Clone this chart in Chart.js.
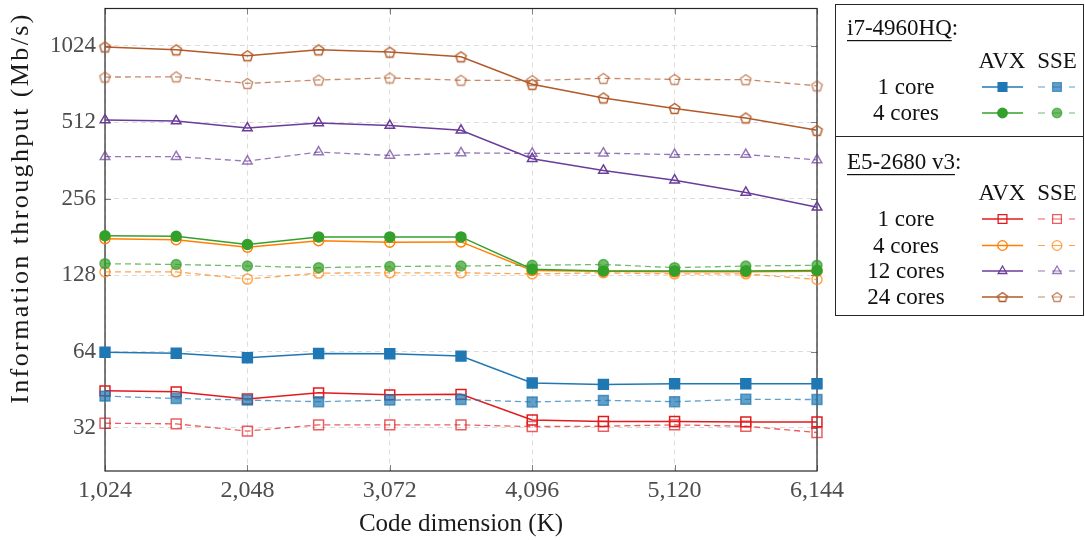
<!DOCTYPE html>
<html>
<head>
<meta charset="utf-8">
<script src="https://cdn.jsdelivr.net/npm/chart.js@4.4.0/dist/chart.umd.min.js"></script>
<style>
  html, body { margin: 0; padding: 0; background: #fff; }
  #wrap { width: 1085px; height: 540px; }
</style>
</head>
<body>
<div id="wrap"><canvas id="chart" width="1085" height="540"></canvas></div>
<script>
// code dimension (K) on x, throughput in Mb/s on a log2 y axis
const codeDims = [1024, 1536, 2048, 2560, 3072, 3584, 4096, 4608, 5120, 5632, 6144];
const xTicks = [1024, 2048, 3072, 4096, 5120, 6144];
const yTicks = [32, 64, 128, 256, 512, 1024];

// i7-4960HQ
const i7Core1Avx  = [63.6, 63.0, 60.5, 62.9, 62.7, 61.4, 48.1, 47.5, 47.8, 47.8, 47.8];
const i7Core1Sse  = [42.7, 41.8, 41.2, 40.6, 41.2, 41.4, 40.5, 41.1, 40.6, 41.5, 41.4];
const i7Cores4Avx = [183, 182, 169, 181, 181, 181, 135, 133, 133, 133, 133.5];
const i7Cores4Sse = [142, 141, 139, 137, 138.5, 139, 140, 141, 137, 139, 140];

// E5-2680 v3
const e5Core1Avx   = [44.8, 44.4, 41.6, 44.0, 43.2, 43.4, 34.4, 33.9, 33.9, 33.8, 33.8];
const e5Core1Sse   = [33.4, 33.2, 31.1, 32.9, 32.9, 32.9, 32.4, 32.5, 32.9, 32.5, 30.7];
const e5Cores4Avx  = [178, 176.6, 164.8, 175, 172.4, 173, 133.5, 132.7, 131.9, 131.9, 132.7];
const e5Cores4Sse  = [131.9, 131.9, 123.5, 130.4, 130.7, 130.7, 129.5, 130.7, 129.5, 129.5, 123];
const e5Cores12Avx = [523, 518, 486, 509, 497, 476, 368, 331, 303, 271, 237];
const e5Cores12Sse = [375, 375, 360, 391, 379, 388, 386, 387, 382, 382, 364];
const e5Cores24Avx = [1015, 988, 937, 988, 968, 928, 723, 639, 581, 533, 476];
const e5Cores24Sse = [772, 774, 729, 752, 766, 750, 748, 763, 756, 754, 713];

const SERIF = '"Liberation Serif", "Times New Roman", serif';

function fade(hex, a) {
  const n = parseInt(hex.slice(1), 16);
  return `rgba(${n >> 16}, ${(n >> 8) & 255}, ${n & 255}, ${a})`;
}

// chart.js has no pentagon marker, so draw one on a small canvas
function pentagon(color, r) {
  const c = document.createElement('canvas');
  const s = Math.ceil(r * 2 + 4);
  c.width = s; c.height = s;
  const g = c.getContext('2d');
  g.strokeStyle = color;
  g.lineWidth = 1.4;
  g.beginPath();
  for (let i = 0; i < 5; i++) {
    const a = -Math.PI / 2 + i * 2 * Math.PI / 5;
    const px = s / 2 + r * Math.cos(a), py = s / 2 + 0.5 + r * Math.sin(a);
    if (i === 0) g.moveTo(px, py); else g.lineTo(px, py);
  }
  g.closePath();
  g.stroke();
  return c;
}

const C = {
  blue: '#1f78b4', green: '#33a02c', red: '#e31a1c',
  orange: '#ff7f00', purple: '#6a3d9a', brown: '#b15928'
};
const SSE_ALPHA = 0.7;

function line(label, data, base, sse, marker, filled) {
  const color = sse ? fade(base, SSE_ALPHA) : base;
  let style = marker, radius = 5;
  if (marker === 'rect') radius = 7;
  if (marker === 'triangle') radius = 5.5;
  if (marker === 'pentagon') style = pentagon(color, 5.5);
  return {
    label: label,
    data: data,
    borderColor: color,
    backgroundColor: color,
    borderWidth: sse ? 1.3 : 1.5,
    borderDash: sse ? [6, 4] : [],
    pointStyle: style,
    pointRadius: radius,
    pointBorderWidth: 1.5,
    pointBorderColor: color,
    pointBackgroundColor: filled ? color : 'rgba(0,0,0,0)',
    tension: 0,
    clip: false
  };
}

const datasets = [
  line('i7 1 core AVX', i7Core1Avx, C.blue, false, 'rect', true),
  line('i7 1 core SSE', i7Core1Sse, C.blue, true, 'rect', true),
  line('i7 4 cores AVX', i7Cores4Avx, C.green, false, 'circle', true),
  line('i7 4 cores SSE', i7Cores4Sse, C.green, true, 'circle', true),
  line('E5 1 core AVX', e5Core1Avx, C.red, false, 'rect', false),
  line('E5 1 core SSE', e5Core1Sse, C.red, true, 'rect', false),
  line('E5 4 cores AVX', e5Cores4Avx, C.orange, false, 'circle', false),
  line('E5 4 cores SSE', e5Cores4Sse, C.orange, true, 'circle', false),
  line('E5 12 cores AVX', e5Cores12Avx, C.purple, false, 'triangle', false),
  line('E5 12 cores SSE', e5Cores12Sse, C.purple, true, 'triangle', false),
  line('E5 24 cores AVX', e5Cores24Avx, C.brown, false, 'pentagon', false),
  line('E5 24 cores SSE', e5Cores24Sse, C.brown, true, 'pentagon', false)
];

// frame + inward tick marks, pgfplots style
const framePlugin = {
  id: 'frame',
  beforeDatasetsDraw(chart) {
    const { ctx, chartArea: a, scales } = chart;
    ctx.save();
    ctx.strokeStyle = '#808080';
    ctx.lineWidth = 1;
    ctx.beginPath();
    yTicks.forEach(v => {
      const y = Math.round(scales.y.getPixelForValue(v)) + 0.5;
      ctx.moveTo(a.left, y); ctx.lineTo(a.left + 6, y);
      ctx.moveTo(a.right, y); ctx.lineTo(a.right - 6, y);
    });
    xTicks.forEach(v => {
      const x = Math.round(scales.x.getPixelForValue(v)) + 0.5;
      ctx.moveTo(x, a.bottom); ctx.lineTo(x, a.bottom - 6);
      ctx.moveTo(x, a.top); ctx.lineTo(x, a.top + 6);
    });
    ctx.stroke();
    ctx.strokeStyle = '#262626';
    ctx.lineWidth = 1.2;
    ctx.strokeRect(a.left, a.top, a.right - a.left, a.bottom - a.top);
    ctx.restore();
  }
};

// axis titles drawn by hand so they sit where the reference has them
const titlePlugin = {
  id: 'titles',
  afterDraw(chart) {
    const ctx = chart.ctx;
    ctx.save();
    ctx.fillStyle = '#1a1a1a';
    ctx.textAlign = 'center';
    ctx.textBaseline = 'middle';
    ctx.font = '25px ' + SERIF;
    ctx.fillText('Code dimension (K)', 461, 524);
    ctx.translate(21, 208);
    ctx.rotate(-Math.PI / 2);
    ctx.font = '26px ' + SERIF;
    if ('letterSpacing' in ctx) ctx.letterSpacing = '2.4px';
    ctx.fillText('Information throughput (Mb/s)', 0, 0);
    ctx.restore();
  }
};

// legend table on the right
const legendGroups = [
  { title: 'i7-4960HQ', titleY: 35, headY: 68, rows: [
    { text: '1 core', y: 87, avx: 0, sse: 1 },
    { text: '4 cores', y: 113, avx: 2, sse: 3 }
  ] },
  { title: 'E5-2680 v3', titleY: 169, headY: 200, rows: [
    { text: '1 core', y: 219, avx: 4, sse: 5 },
    { text: '4 cores', y: 245.5, avx: 6, sse: 7 },
    { text: '12 cores', y: 271, avx: 8, sse: 9 },
    { text: '24 cores', y: 297, avx: 10, sse: 11 }
  ] }
];

function legendMarker(ctx, ds, x, y) {
  const h = Chart.helpers;
  if (ds.pointStyle instanceof HTMLCanvasElement) {
    const img = pentagon(ds.borderColor, 5);
    ctx.drawImage(img, x - img.width / 2, y - img.height / 2);
    return;
  }
  ctx.fillStyle = ds.pointBackgroundColor;
  ctx.strokeStyle = ds.pointBorderColor;
  ctx.lineWidth = 1.3;
  ctx.setLineDash([]);
  const r = ds.pointStyle === 'rect' ? 6.2 : (ds.pointStyle === 'triangle' ? 5 : 4.8);
  h.drawPoint(ctx, { pointStyle: ds.pointStyle, radius: r, rotation: 0, borderWidth: 1.3 }, x, y);
}

const legendPlugin = {
  id: 'sideLegend',
  afterDraw(chart) {
    const ctx = chart.ctx;
    const dsets = chart.data.datasets;
    ctx.save();
    ctx.strokeStyle = '#262626';
    ctx.lineWidth = 1;
    ctx.strokeRect(835.5, 4.5, 248, 311);
    ctx.beginPath();
    ctx.moveTo(836, 136.5); ctx.lineTo(1084, 136.5);
    ctx.stroke();

    ctx.font = '23px ' + SERIF;
    ctx.fillStyle = '#111';
    ctx.textBaseline = 'alphabetic';
    legendGroups.forEach(g => {
      ctx.textAlign = 'left';
      ctx.fillText(g.title + ':', 847, g.titleY);
      const w = ctx.measureText(g.title).width;
      ctx.fillRect(847, g.titleY + 5, w, 1.2);
      ctx.textAlign = 'center';
      ctx.fillText('AVX', 1002, g.headY);
      ctx.fillText('SSE', 1057, g.headY);
      g.rows.forEach(row => {
        ctx.fillStyle = '#111';
        ctx.textAlign = 'center';
        ctx.fillText(row.text, 906, row.y + 7);
        const avx = dsets[row.avx], sse = dsets[row.sse];
        ctx.lineWidth = 1.4;
        ctx.setLineDash([]);
        ctx.strokeStyle = avx.borderColor;
        ctx.beginPath();
        ctx.moveTo(982, row.y); ctx.lineTo(1023, row.y);
        ctx.stroke();
        legendMarker(ctx, avx, 1002.5, row.y);
        ctx.strokeStyle = sse.borderColor;
        ctx.lineWidth = 1.2;
        ctx.beginPath();
        [[1038, 1045], [1052, 1062], [1069, 1075]].forEach(([a, b]) => {
          ctx.moveTo(a, row.y); ctx.lineTo(b, row.y);
        });
        ctx.stroke();
        legendMarker(ctx, sse, 1057, row.y);
        ctx.fillStyle = '#111';
      });
    });
    ctx.restore();
  }
};

new Chart(document.getElementById('chart'), {
  type: 'line',
  data: { datasets: datasets.map(d => ({ ...d, data: d.data.map((v, i) => ({ x: codeDims[i], y: v })) })) },
  options: {
    responsive: false,
    animation: false,
    devicePixelRatio: 1,
    layout: { padding: { top: 5, right: 268, left: 0, bottom: 0 } },
    plugins: { legend: { display: false }, tooltip: { enabled: false } },
    scales: {
      x: {
        type: 'linear',
        min: 1024,
        max: 6144,
        afterBuildTicks: axis => { axis.ticks = xTicks.map(v => ({ value: v })); },
        afterFit: axis => { axis.height = 69; axis.paddingLeft = 0; axis.paddingRight = 0; },
        grid: { color: '#dcdcdc', lineWidth: 1, drawTicks: false },
        border: { display: false, dash: [5, 4] },
        ticks: {
          padding: 5,
          color: '#4d4d4d',
          font: { family: SERIF, size: 24 },
          maxRotation: 0,
          callback: v => v.toLocaleString('en-US')
        }
      },
      y: {
        type: 'logarithmic',
        min: 21.65,
        max: 1438,
        afterBuildTicks: axis => { axis.ticks = yTicks.map(v => ({ value: v })); },
        afterFit: axis => { axis.width = 105; axis.paddingTop = 0; axis.paddingBottom = 0; },
        grid: { color: '#dcdcdc', lineWidth: 1, drawTicks: false },
        border: { display: false, dash: [5, 4] },
        ticks: {
          padding: 9,
          color: '#4d4d4d',
          font: { family: SERIF, size: 23 },
          callback: v => String(v)
        }
      }
    }
  },
  plugins: [framePlugin, titlePlugin, legendPlugin]
});
</script>
</body>
</html>
